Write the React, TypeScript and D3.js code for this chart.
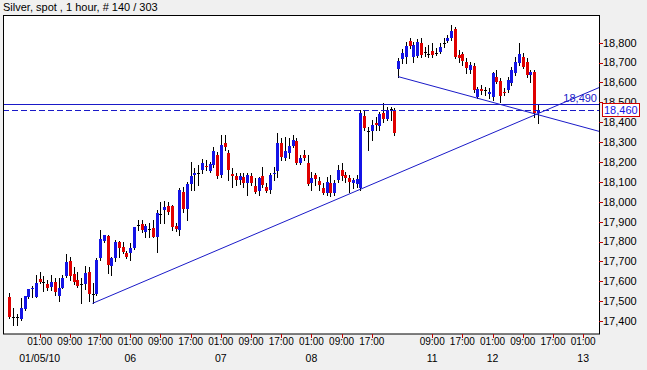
import React from "react";
import * as d3 from "d3";

const W = 647;
const H = 370;

// Hourly bars, index 0 = 01/04 17:00 ... index 140 = 01/12 13:00 (weekend gap after 102)
const opens = [
  17522, 17420, 17418, 17410, 17459, 17519, 17559, 17519, 17610, 17598,
  17586, 17573, 17594, 17526, 17568, 17626, 17703, 17636, 17606, 17585,
  17586, 17648, 17536, 17536, 17715, 17804, 17828, 17678, 17715, 17796,
  17770, 17740, 17740, 17765, 17884, 17888, 17849, 17862, 17866, 17824,
  17936, 17958, 17980, 17978, 17878, 17858, 18050, 17962, 18087, 18134,
  18145, 18160, 18181, 18156, 18185, 18235, 18134, 18297, 18246, 18142,
  18129, 18109, 18126, 18092, 18129, 18079, 18055, 18129, 18072, 18059,
  18140, 18154, 18297, 18218, 18246, 18280, 18307, 18193, 18235, 18193,
  18092, 18134, 18104, 18070, 18042, 18096, 18042, 18109, 18159, 18134,
  18121, 18092, 18089, 18067, 18431, 18354, 18357, 18397, 18381, 18444,
  18414, 18465, 18458, 18668, 18716, 18726, 18810, 18726, 18733, 18797,
  18753, 18745, 18760, 18750, 18755, 18797, 18810, 18822, 18869, 18738,
  18741, 18704, 18663, 18683, 18528, 18565, 18562, 18542, 18528, 18626,
  18609, 18553, 18562, 18595, 18646, 18696, 18730, 18705, 18638, 18650,
  18445,
];
const highs = [
  17539, 17464, 17435, 17517, 17526, 17561, 17576, 17631, 17648, 17626,
  17606, 17631, 17615, 17615, 17631, 17737, 17723, 17673, 17648, 17615,
  17677, 17670, 17589, 17715, 17858, 17832, 17835, 17720, 17808, 17804,
  17800, 17752, 17794, 17875, 17908, 17908, 17888, 17891, 17908, 17958,
  18000, 18005, 18000, 17985, 17891, 18067, 18076, 18101, 18201, 18168,
  18185, 18213, 18210, 18201, 18277, 18252, 18335, 18336, 18260, 18168,
  18143, 18143, 18143, 18143, 18143, 18118, 18126, 18176, 18092, 18143,
  18176, 18344, 18319, 18327, 18319, 18336, 18319, 18235, 18260, 18235,
  18151, 18143, 18126, 18092, 18126, 18134, 18109, 18185, 18193, 18151,
  18134, 18118, 18134, 18461, 18461, 18377, 18411, 18428, 18453, 18495,
  18475, 18475, 18470, 18721, 18766, 18805, 18822, 18805, 18817, 18822,
  18780, 18790, 18797, 18771, 18797, 18822, 18839, 18889, 18880, 18763,
  18755, 18721, 18704, 18696, 18579, 18587, 18579, 18570, 18654, 18663,
  18621, 18570, 18629, 18679, 18730, 18797, 18746, 18721, 18663, 18663,
  18490,
];
const lows = [
  17413, 17380, 17380, 17405, 17455, 17514, 17519, 17519, 17589, 17553,
  17556, 17556, 17531, 17501, 17564, 17620, 17606, 17586, 17569, 17492,
  17559, 17502, 17489, 17531, 17707, 17799, 17640, 17631, 17700, 17724,
  17744, 17715, 17707, 17760, 17858, 17850, 17821, 17824, 17821, 17749,
  17895, 17895, 17940, 17860, 17854, 17832, 17950, 17908, 18059, 18059,
  18084, 18143, 18160, 18151, 18176, 18120, 18126, 18260, 18109, 18076,
  18084, 18090, 18076, 18034, 18084, 18042, 18034, 18076, 18050, 18042,
  18109, 18126, 18210, 18210, 18218, 18277, 18190, 18190, 18210, 18085,
  18059, 18084, 18059, 18039, 18036, 18030, 18034, 18101, 18109, 18101,
  18050, 18067, 18076, 18059, 18361, 18260, 18310, 18361, 18361, 18403,
  18411, 18411, 18336, 18629, 18696, 18696, 18771, 18704, 18730, 18726,
  18733, 18730, 18726, 18738, 18746, 18780, 18805, 18813, 18721, 18704,
  18688, 18649, 18646, 18553, 18520, 18542, 18537, 18520, 18512, 18595,
  18503, 18537, 18553, 18587, 18637, 18688, 18671, 18629, 18604, 18428,
  18395,
];
const closes = [
  17418, 17420, 17418, 17464, 17526, 17561, 17567, 17589, 17598, 17598,
  17564, 17596, 17548, 17564, 17615, 17698, 17626, 17598, 17576, 17585,
  17643, 17536, 17536, 17707, 17811, 17832, 17682, 17715, 17796, 17765,
  17749, 17723, 17765, 17871, 17884, 17858, 17878, 17862, 17821, 17945,
  17936, 17972, 17950, 17871, 17864, 18059, 17962, 18087, 18129, 18146,
  18145, 18193, 18173, 18188, 18254, 18130, 18285, 18277, 18162, 18129,
  18109, 18129, 18092, 18134, 18092, 18050, 18117, 18084, 18055, 18134,
  18146, 18297, 18226, 18256, 18280, 18310, 18193, 18221, 18218, 18089,
  18117, 18112, 18084, 18042, 18101, 18042, 18092, 18159, 18129, 18117,
  18101, 18109, 18114, 18444, 18369, 18354, 18386, 18384, 18441, 18414,
  18461, 18465, 18344, 18709, 18746, 18783, 18783, 18788, 18805, 18738,
  18753, 18745, 18738, 18750, 18780, 18797, 18822, 18860, 18730, 18721,
  18709, 18671, 18688, 18562, 18567, 18558, 18562, 18553, 18646, 18604,
  18532, 18548, 18612, 18663, 18704, 18741, 18680, 18638, 18654, 18445,
  18460,
];

const priceTicks = [17400, 17500, 17600, 17700, 17800, 17900, 18000, 18100, 18200, 18300, 18400, 18500, 18600, 18700, 18800];
const timeTickIdx = [8, 16, 24, 32, 40, 48, 56, 64, 72, 80, 88, 96, 112, 120, 128, 136, 144, 152];
const timeTickLabels = ["01:00", "09:00", "17:00", "01:00", "09:00", "17:00", "01:00", "09:00", "17:00", "01:00", "09:00", "17:00", "09:00", "17:00", "01:00", "09:00", "17:00", "01:00"];
const dateTickIdx = [8, 32, 56, 80, 112, 128, 152];
const dateLabels = ["01/05/10", "06", "07", "08", "11", "12", "13"];

// trend lines: anchor points (bar index, price)
const riseLine = [{ i: 22, v: 17489 }, { i: 93, v: 18063 }];
const fallLine = [{ i: 103, v: 18629 }, { i: 127, v: 18505 }];
const hLineSolid = 18490;
const hLineDashed = 18460;
const lastPrice = 18460;

const title = "Silver, spot , 1 hour, # 140 / 303";

const L = 3, R = 599, T = 16, B = 334;
const FONT = "Arial, 'Liberation Sans', sans-serif";
const BLUE = "#1414e6";
const RED = "#e00000";
const LINE = "#1a1ac8";

export default function App() {
  const x = d3.scaleLinear().domain([-1.722, 156.2]).range([L, R]);
  const y = d3.scaleLinear().domain([17335, 18939]).range([B, 15]);
  const fmt = d3.format(",");
  const xEnd = x.domain()[1];

  const ext = (pts: { i: number; v: number }[]) => {
    const s = (pts[1].v - pts[0].v) / (pts[1].i - pts[0].i);
    return [
      [x(pts[0].i), y(pts[0].v)],
      [x(xEnd), y(pts[0].v + s * (xEnd - pts[0].i))],
    ] as [number, number][];
  };
  const lineGen = d3.line();

  const candles = opens.map((o, i) => {
    const c = closes[i];
    const cx = Math.round(x(i));
    const up = c > o;
    const doji = c === o;
    const top = y(Math.max(o, c));
    const bot = y(Math.min(o, c));
    return (
      <g key={i}>
        <line x1={cx + 0.5} x2={cx + 0.5} y1={Math.round(y(highs[i]))} y2={Math.round(y(lows[i])) + 1} stroke="#000" strokeWidth={1} />
        {doji ? (
          <line x1={cx - 1} x2={cx + 2} y1={Math.round(top) + 0.5} y2={Math.round(top) + 0.5} stroke="#000" strokeWidth={1} />
        ) : (
          <rect x={cx - 1} y={Math.round(top)} width={3} height={Math.max(1, Math.round(bot) - Math.round(top))} fill={up ? BLUE : RED} />
        )}
      </g>
    );
  });

  return (
    <svg width={W} height={H} style={{ position: "absolute", left: 0, top: 0, display: "block" }} fontFamily={FONT}>
      <rect x={0} y={0} width={W} height={H} fill="#f0f0f0" />
      <text x={3} y={11} fontSize={11} fill="#000">{title}</text>
      <rect x={L + 0.5} y={T - 0.5} width={R - L} height={B - T + 0.5} fill="#fff" stroke="#000" />
      <defs>
        <clipPath id="plot">
          <rect x={L + 1} y={T} width={R - L - 1} height={B - T} />
        </clipPath>
      </defs>
      <g clipPath="url(#plot)">
        {candles}
        <line x1={L} x2={R} y1={Math.round(y(hLineSolid)) + 0.5} y2={Math.round(y(hLineSolid)) + 0.5} stroke={LINE} strokeWidth={1} />
        <line x1={L} x2={R} y1={Math.round(y(hLineDashed)) + 0.5} y2={Math.round(y(hLineDashed)) + 0.5} stroke={LINE} strokeWidth={1} strokeDasharray="6,3" />
        <path d={lineGen(ext(riseLine)) || ""} stroke={LINE} strokeWidth={1} fill="none" />
        <path d={lineGen(ext(fallLine)) || ""} stroke={LINE} strokeWidth={1} fill="none" />
        <text x={597} y={y(hLineSolid) - 2} fontSize={11} fill={LINE} textAnchor="end">{fmt(hLineSolid)}</text>
      </g>
      {priceTicks.map((v) => (
        <g key={v}>
          <line x1={R} x2={R + 4} y1={Math.round(y(v)) + 0.5} y2={Math.round(y(v)) + 0.5} stroke="#c00000" />
          <text x={R + 4} y={y(v)} dy="0.36em" fontSize={11} fill="#000">{fmt(v)}</text>
        </g>
      ))}
      <rect x={602.5} y={Math.round(y(lastPrice)) - 6.5} width={37} height={13} fill="#fff" stroke="#d00000" />
      <text x={604} y={y(lastPrice)} dy="0.36em" fontSize={11} fill={BLUE}>{fmt(lastPrice)}</text>
      {timeTickIdx.map((i, k) => (
        <g key={"t" + k}>
          <line x1={Math.round(x(i)) + 0.5} x2={Math.round(x(i)) + 0.5} y1={B} y2={B + 4} stroke="#c00000" />
          <text x={x(i)} y={345} fontSize={10} fill="#000" textAnchor="middle">{timeTickLabels[k]}</text>
        </g>
      ))}
      {dateTickIdx.map((i, k) => (
        <text key={"d" + k} x={x(i)} y={362} fontSize={10.5} fill="#000" textAnchor="middle">{dateLabels[k]}</text>
      ))}
    </svg>
  );
}
